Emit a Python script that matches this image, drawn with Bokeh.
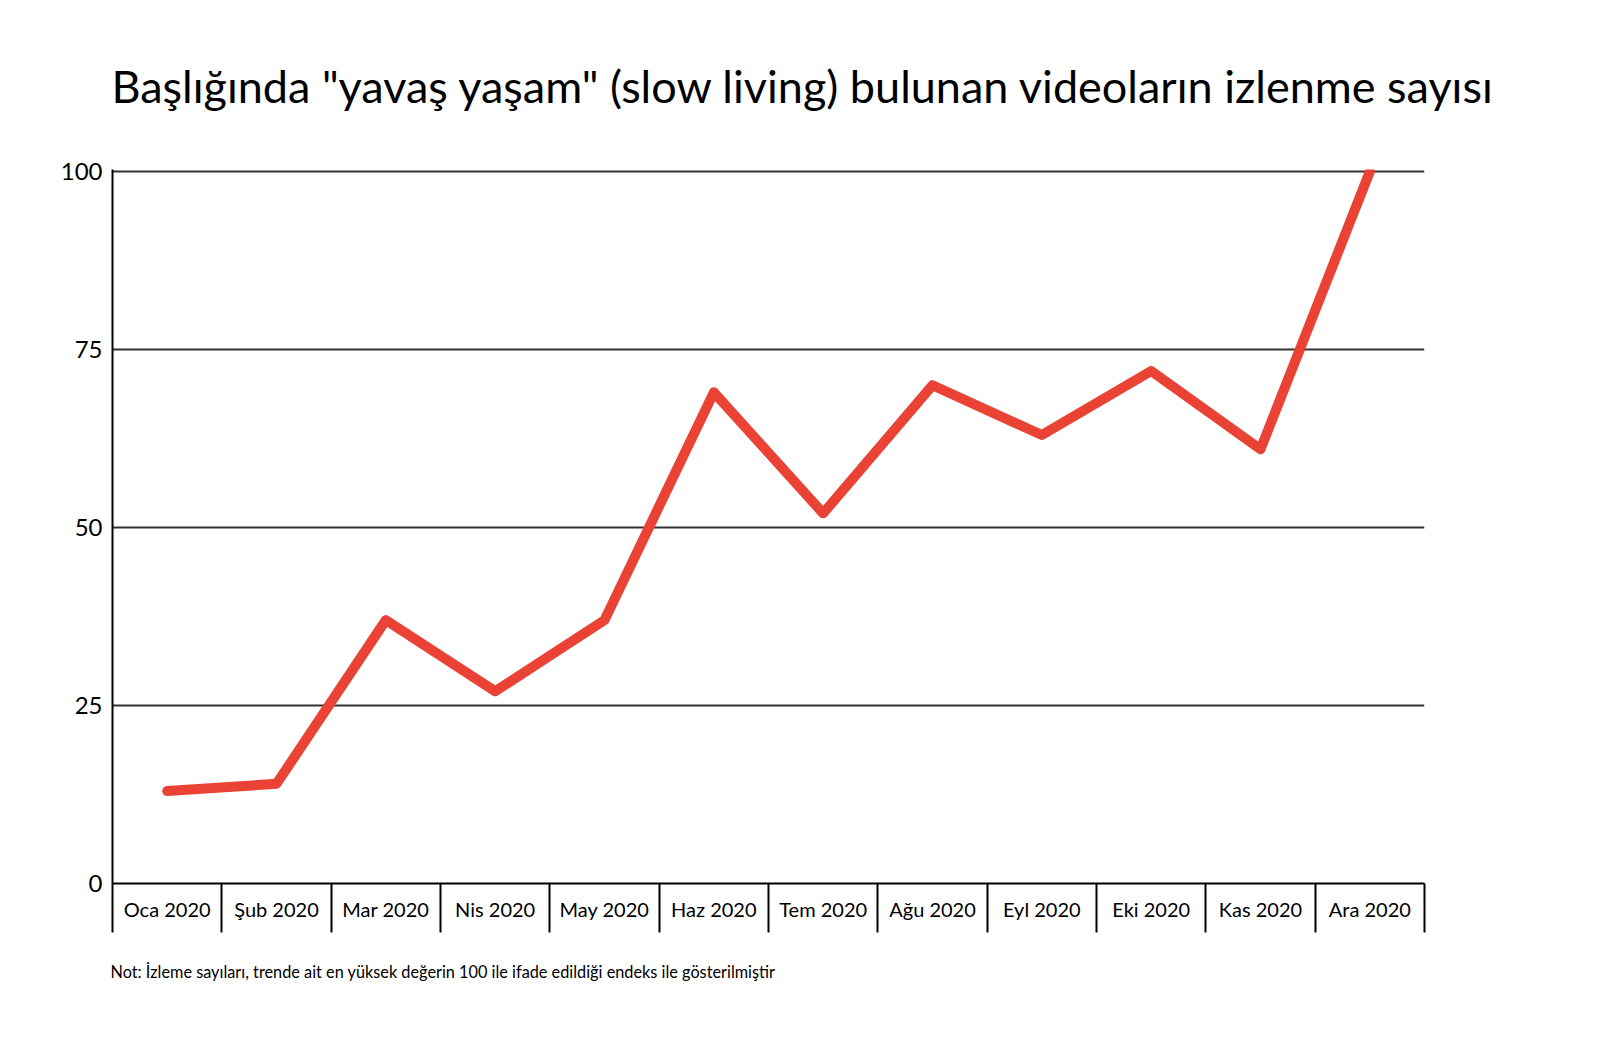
from bokeh.plotting import figure
from bokeh.models import Range1d, FixedTicker, Title
from bokeh.embed import file_html
from bokeh.resources import INLINE

months = ["Oca 2020", "Şub 2020", "Mar 2020", "Nis 2020", "May 2020", "Haz 2020",
          "Tem 2020", "Ağu 2020", "Eyl 2020", "Eki 2020", "Kas 2020", "Ara 2020"]
views = [13, 14, 37, 27, 37, 69, 52, 70, 63, 72, 61, 100]
y_ticks = [0, 25, 50, 75, 100]

title_text = 'Başlığında "yavaş yaşam" (slow living) bulunan videoların izlenme sayısı'
note_text = "Not: İzleme sayıları, trende ait en yüksek değerin 100 ile ifade edildiği endeks ile gösterilmiştir"

FONT = "Lato"
n = len(months)
xs = [i + 0.5 for i in range(n)]

p = figure(width=1590, height=1030, output_backend="svg", toolbar_location=None,
           x_range=Range1d(0, n), y_range=Range1d(0, 100.3),
           min_border_left=112, min_border_right=166, min_border_top=168, min_border_bottom=147)
p.outline_line_color = None
p.background_fill_color = "white"
p.border_fill_color = "white"

p.title.text = title_text
p.title.align = "left"
p.title.offset = -1
p.title.standoff = 113
p.title.text_font = FONT
p.title.text_font_size = "45px"
p.title.text_font_style = "normal"
p.title.text_color = "black"

p.line(xs, views, line_color="#EA4335", line_width=10, line_cap="round", line_join="round")

# x axis
xa = p.xaxis[0]
xa.ticker = FixedTicker(ticks=xs, minor_ticks=list(range(n + 1)))
xa.major_label_overrides = {x: m for x, m in zip(xs, months)}
xa.major_tick_out = 0
xa.major_tick_in = 0
xa.minor_tick_out = 49
xa.minor_tick_in = 0
xa.minor_tick_line_color = "black"
xa.minor_tick_line_width = 2
xa.axis_line_color = "black"
xa.axis_line_width = 2
xa.major_label_standoff = -36
xa.major_label_text_font = FONT
xa.major_label_text_font_size = "20px"
xa.major_label_text_color = "black"

# y axis
ya = p.yaxis[0]
ya.ticker = FixedTicker(ticks=y_ticks)
ya.major_tick_out = 0
ya.major_tick_in = 0
ya.minor_tick_out = 0
ya.minor_tick_in = 0
ya.axis_line_color = "black"
ya.axis_line_width = 2
ya.major_label_standoff = 10
ya.major_label_text_font = FONT
ya.major_label_text_font_size = "24px"
ya.major_label_text_color = "black"

p.xgrid.visible = False
p.ygrid.grid_line_color = "#333333"
p.ygrid.grid_line_width = 2

note = Title(text=note_text, align="left", text_font=FONT, text_font_size="16.3px",
             text_font_style="normal", text_color="black", standoff=72, offset=-2)
p.add_layout(note, "below")

open("out.html", "w").write(file_html(p, INLINE))
